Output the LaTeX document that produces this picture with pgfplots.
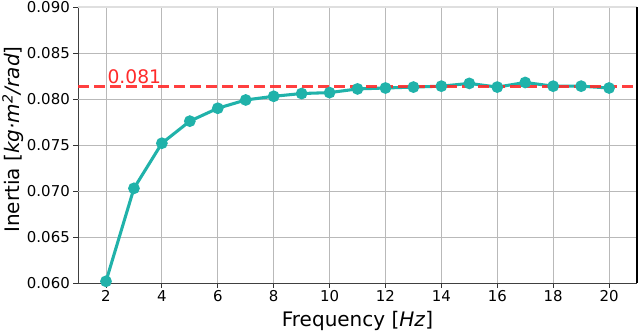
\documentclass[border=0pt]{standalone}
\usepackage{fontspec}
\setmainfont{DejaVu Sans}
\usepackage{pgfplots}
\pgfplotsset{compat=1.18}
\definecolor{teal1}{HTML}{20B2AA}
\definecolor{redl}{HTML}{FF2A2A}
\newcommand{\tf}[1]{{\fontsize{11.2}{13}\selectfont #1}}
\begin{document}
\begin{tikzpicture}
  \begin{axis}[
    scale only axis,
    width=419pt,
    height=207pt,
    xmin=1, xmax=21,
    ymin=0.060, ymax=0.090,
    xtick={2,4,6,8,10,12,16,18,20},
    ytick={0.060,0.065,0.075,0.085,0.090},
    xticklabels={\tf{2},\tf{4},\tf{6},\tf{8},\tf{10},\tf{12},\tf{16},\tf{18},\tf{20}},
    yticklabels={\tf{0.060},\tf{0.065},\tf{0.075},\tf{0.085},\tf{0.090}},
    extra y ticks={0.070,0.080},
    extra y tick labels={\tf{0.070},\tf{0.080}},
    extra y tick style={grid style={draw=gray!8,line width=0.6pt}},
    extra x ticks={14},
    extra x tick labels={\tf{14}},
    extra x tick style={grid style={draw=gray!8,line width=0.6pt}},
    grid=major,
    major grid style={draw=gray!55,line width=0.6pt},
    tick align=outside,
    tick pos=left,
    major tick length=3.5pt,
    tick style={draw=black!80,line width=0.6pt},
    axis line style={draw=black!75,line width=0.8pt},
    separate axis lines,
    xticklabel style={inner sep=2pt},
    yticklabel style={inner sep=2.5pt},
    xlabel={Frequency [\textit{Hz}]},
    ylabel={Inertia [\textit{kg·m\textsuperscript{2}/rad}]},
    xlabel style={font=\fontsize{15}{17}\selectfont,inner sep=0pt,
      at={(axis description cs:0.5,0)},anchor=south,yshift=-35.5pt},
    ylabel style={font=\fontsize{15}{17}\selectfont,inner sep=0pt,
      at={(axis description cs:0,0.52)},anchor=north,yshift=57pt},
    clip=false,
  ]
    \addplot[teal1,line width=2.3pt,mark=*,mark size=3.2pt,mark options={solid,fill=teal1}] coordinates {
      (2,0.0602) (3,0.0703) (4,0.0752) (5,0.0776) (6,0.0790)
      (7,0.0799) (8,0.0803) (9,0.0806) (10,0.0807) (11,0.0811)
      (12,0.0812) (13,0.0813) (14,0.0814) (15,0.0817) (16,0.0813)
      (17,0.0818) (18,0.0814) (19,0.0814) (20,0.0812)
    };
    \addplot[redl,opacity=0.9,line width=2.3pt,dash pattern=on 8pt off 4pt] coordinates {
      (1,0.0814) (21,0.0814)
    };
    \node[anchor=south west,text=redl,font=\fontsize{14}{16}\selectfont,inner sep=1pt] at (axis cs:2.0,0.0815) {0.081};
    \draw[gray!25,line width=0.8pt] (rel axis cs:0,1) -- (rel axis cs:1,1);
    \draw[black,line width=0.9pt] (rel axis cs:1,0) -- (rel axis cs:1,1);
    \coordinate (sw) at (rel axis cs:0,0);
    \coordinate (ne) at (rel axis cs:1,1);
  \end{axis}
  \pgfresetboundingbox
  \path ([xshift=-58.5pt,yshift=-36pt]sw) rectangle ([xshift=2.25pt,yshift=5.25pt]ne);
\end{tikzpicture}
\end{document}
